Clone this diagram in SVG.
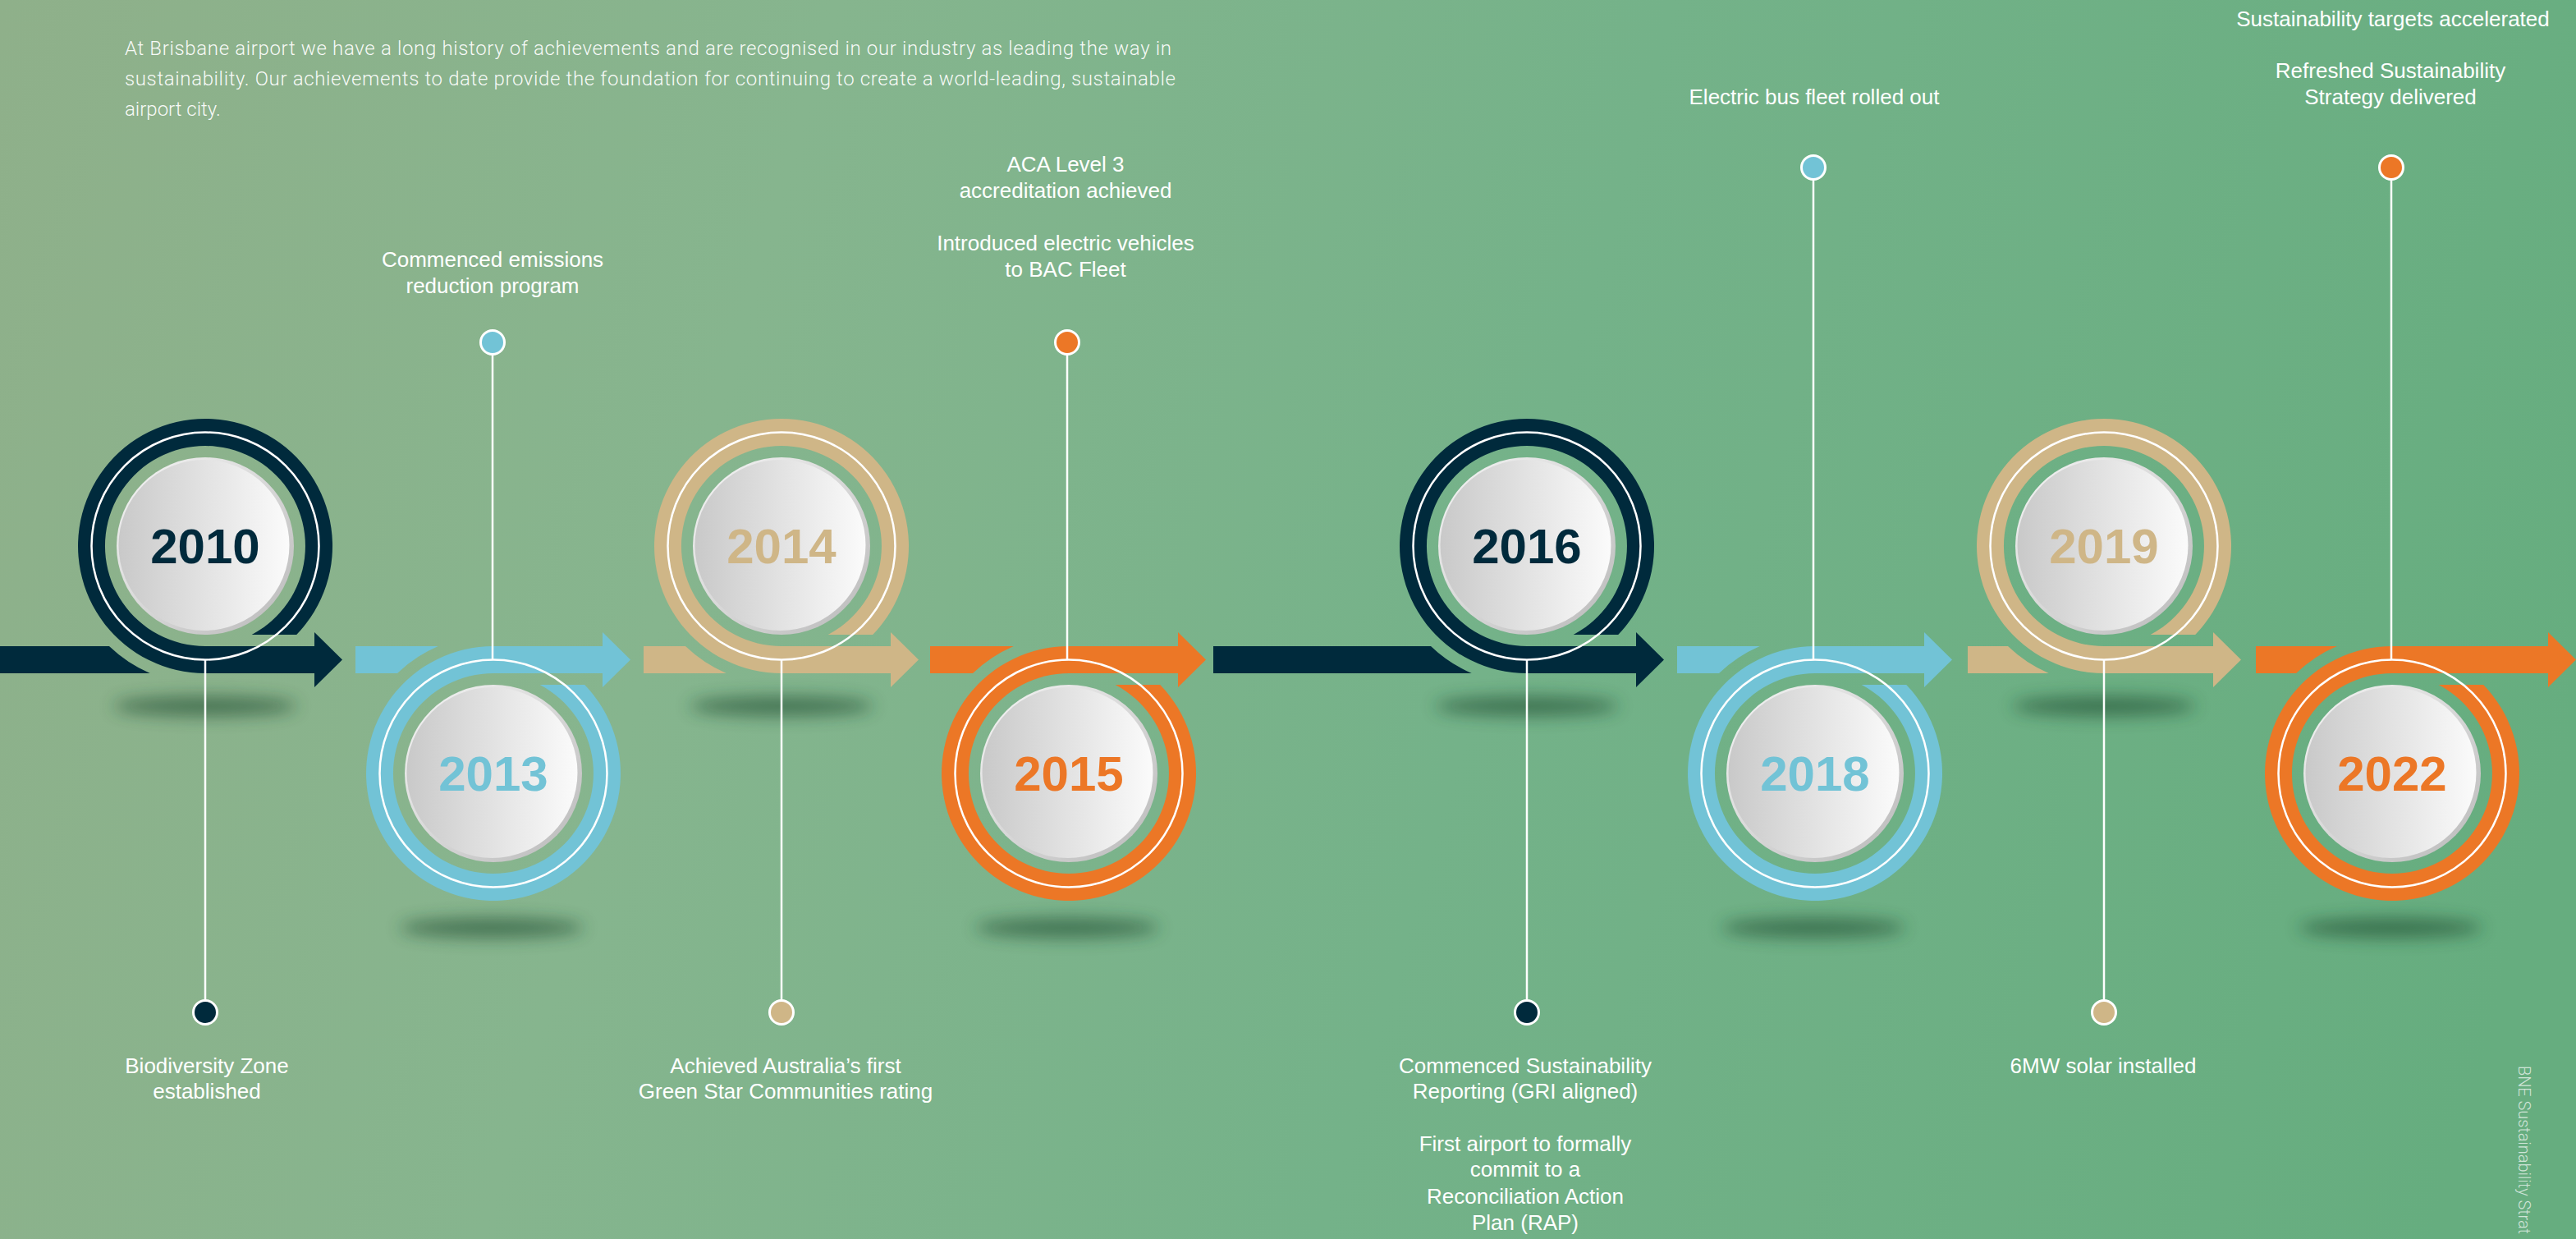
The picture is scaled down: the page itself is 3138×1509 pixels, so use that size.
<svg xmlns="http://www.w3.org/2000/svg" width="3138" height="1509" viewBox="0 0 3138 1509">
<defs>
<linearGradient id="bg" gradientUnits="userSpaceOnUse" x1="0" y1="0" x2="3138" y2="900">
<stop offset="0" stop-color="#8fb08a"/>
<stop offset="0.3" stop-color="#86b58e"/>
<stop offset="0.6" stop-color="#74b289"/>
<stop offset="1" stop-color="#66ad7f"/>
</linearGradient>
<linearGradient id="rim" x1="0" y1="0" x2="1" y2="1">
<stop offset="0" stop-color="#f6f6f6"/>
<stop offset="1" stop-color="#b9b9b9"/>
</linearGradient>
<linearGradient id="face" x1="0" y1="0" x2="1" y2="0">
<stop offset="0" stop-color="#c9c9c9"/>
<stop offset="1" stop-color="#fbfbfb"/>
</linearGradient>
<filter id="blur" x="-50%" y="-200%" width="200%" height="500%">
<feGaussianBlur stdDeviation="10"/>
</filter>
</defs>
<style>
.navy{fill:#002a3c}
.blue{fill:#72c3d6}
.tan{fill:#cfb687}
.orange{fill:#ec7726}
.shadow{fill:#1f4a2f;opacity:0.6;filter:url(#blur)}
.wring{fill:none;stroke:#ffffff;stroke-width:2.5}
.rim{fill:url(#rim)}
.face{fill:url(#face)}
.year{font-family:"Liberation Sans",Arial,sans-serif;font-weight:bold;font-size:60px;text-anchor:middle}
.lbl{font-family:"Liberation Sans",Arial,sans-serif;font-size:26px;fill:#ffffff;text-anchor:middle}
.intro{font-family:Roboto,"Liberation Sans",sans-serif;font-weight:300;font-size:24px;fill:#ffffff;fill-opacity:0.95}
.side{font-family:Roboto,"Liberation Sans",sans-serif;font-weight:300;font-size:20px;fill:#ffffff;fill-opacity:0.7}
.stem{stroke:#ffffff;stroke-width:2.5;fill:none}
.dot{stroke:#ffffff;stroke-width:3}
</style>
<rect x="0" y="0" width="3138" height="1509" fill="url(#bg)"/>

<g id="intro">
<text class="intro" x="152" y="67" textLength="1275" lengthAdjust="spacing">At Brisbane airport we have a long history of achievements and are recognised in our industry as leading the way in</text>
<text class="intro" x="152" y="104" textLength="1280" lengthAdjust="spacing">sustainability. Our achievements to date provide the foundation for continuing to create a world-leading, sustainable</text>
<text class="intro" x="152" y="141">airport city.</text>
</g>

<g id="shadows">
<ellipse class="shadow" cx="250" cy="860" rx="112" ry="12"/>
<ellipse class="shadow" cx="599" cy="1130" rx="112" ry="12"/>
<ellipse class="shadow" cx="952" cy="860" rx="112" ry="12"/>
<ellipse class="shadow" cx="1300" cy="1130" rx="112" ry="12"/>
<ellipse class="shadow" cx="1860" cy="860" rx="112" ry="12"/>
<ellipse class="shadow" cx="2209" cy="1130" rx="112" ry="12"/>
<ellipse class="shadow" cx="2563" cy="860" rx="112" ry="12"/>
<ellipse class="shadow" cx="2912" cy="1130" rx="112" ry="12"/>
</g>

<g id="node-2010">
<path class="navy" d="M0,787 L133,787 A169,169 0 0 0 182.7,820 L0,820 Z"/>
<path class="navy" d="M250,820 A155,155 0 1 1 361.2,773 L306.7,773 A122,122 0 1 0 250,787 L383,787 L383,770 L417,803.5 L383,837 L383,820 Z"/>
<circle class="wring" cx="250" cy="665" r="138.5"/>
<circle class="rim" cx="250" cy="665" r="108"/>
<circle class="face" cx="248.5" cy="664" r="104"/>
<text class="year navy" x="250" y="686">2010</text>
</g>

<g id="node-2013">
<path class="blue" d="M433,787 L533.7,787 A169,169 0 0 0 484,820 L433,820 Z"/>
<path class="blue" d="M601,787 A155,155 0 1 0 712.2,834 L657.7,834 A122,122 0 1 1 601,820 L734,820 L734,837 L768,803.5 L734,770 L734,787 Z"/>
<circle class="wring" cx="601" cy="942" r="138.5"/>
<circle class="rim" cx="601" cy="942" r="108"/>
<circle class="face" cx="599.5" cy="941" r="104"/>
<text class="year blue" x="601" y="963">2013</text>
</g>

<g id="node-2014">
<path class="tan" d="M784,787 L835,787 A169,169 0 0 0 884.7,820 L784,820 Z"/>
<path class="tan" d="M952,820 A155,155 0 1 1 1063.2,773 L1008.7,773 A122,122 0 1 0 952,787 L1085,787 L1085,770 L1119,803.5 L1085,837 L1085,820 Z"/>
<circle class="wring" cx="952" cy="665" r="138.5"/>
<circle class="rim" cx="952" cy="665" r="108"/>
<circle class="face" cx="950.5" cy="664" r="104"/>
<text class="year tan" x="952" y="686">2014</text>
</g>

<g id="node-2015">
<path class="orange" d="M1133,787 L1234.7,787 A169,169 0 0 0 1185,820 L1133,820 Z"/>
<path class="orange" d="M1302,787 A155,155 0 1 0 1413.2,834 L1358.7,834 A122,122 0 1 1 1302,820 L1435,820 L1435,837 L1469,803.5 L1435,770 L1435,787 Z"/>
<circle class="wring" cx="1302" cy="942" r="138.5"/>
<circle class="rim" cx="1302" cy="942" r="108"/>
<circle class="face" cx="1300.5" cy="941" r="104"/>
<text class="year orange" x="1302" y="963">2015</text>
</g>

<g id="node-2016">
<path class="navy" d="M1478,787 L1743,787 A169,169 0 0 0 1792.7,820 L1478,820 Z"/>
<path class="navy" d="M1860,820 A155,155 0 1 1 1971.2,773 L1916.7,773 A122,122 0 1 0 1860,787 L1993,787 L1993,770 L2027,803.5 L1993,837 L1993,820 Z"/>
<circle class="wring" cx="1860" cy="665" r="138.5"/>
<circle class="rim" cx="1860" cy="665" r="108"/>
<circle class="face" cx="1858.5" cy="664" r="104"/>
<text class="year navy" x="1860" y="686">2016</text>
</g>

<g id="node-2018">
<path class="blue" d="M2043,787 L2143.7,787 A169,169 0 0 0 2094,820 L2043,820 Z"/>
<path class="blue" d="M2211,787 A155,155 0 1 0 2322.2,834 L2267.7,834 A122,122 0 1 1 2211,820 L2344,820 L2344,837 L2378,803.5 L2344,770 L2344,787 Z"/>
<circle class="wring" cx="2211" cy="942" r="138.5"/>
<circle class="rim" cx="2211" cy="942" r="108"/>
<circle class="face" cx="2209.5" cy="941" r="104"/>
<text class="year blue" x="2211" y="963">2018</text>
</g>

<g id="node-2019">
<path class="tan" d="M2397,787 L2446,787 A169,169 0 0 0 2495.7,820 L2397,820 Z"/>
<path class="tan" d="M2563,820 A155,155 0 1 1 2674.2,773 L2619.7,773 A122,122 0 1 0 2563,787 L2696,787 L2696,770 L2730,803.5 L2696,837 L2696,820 Z"/>
<circle class="wring" cx="2563" cy="665" r="138.5"/>
<circle class="rim" cx="2563" cy="665" r="108"/>
<circle class="face" cx="2561.5" cy="664" r="104"/>
<text class="year tan" x="2563" y="686">2019</text>
</g>

<g id="node-2022">
<path class="orange" d="M2748,787 L2846.7,787 A169,169 0 0 0 2797,820 L2748,820 Z"/>
<path class="orange" d="M2914,787 A155,155 0 1 0 3025.2,834 L2970.7,834 A122,122 0 1 1 2914,820 L3104,820 L3104,837 L3138,803.5 L3104,770 L3104,787 Z"/>
<circle class="wring" cx="2914" cy="942" r="138.5"/>
<circle class="rim" cx="2914" cy="942" r="108"/>
<circle class="face" cx="2912.5" cy="941" r="104"/>
<text class="year orange" x="2914" y="963">2022</text>
</g>

<g id="connectors">
<line class="stem" x1="250" y1="803.5" x2="250" y2="1233"/>
<line class="stem" x1="600" y1="417" x2="600" y2="803.5"/>
<line class="stem" x1="952" y1="803.5" x2="952" y2="1233"/>
<line class="stem" x1="1300" y1="417" x2="1300" y2="803.5"/>
<line class="stem" x1="1860" y1="803.5" x2="1860" y2="1233"/>
<line class="stem" x1="2209" y1="204" x2="2209" y2="803.5"/>
<line class="stem" x1="2563" y1="803.5" x2="2563" y2="1233"/>
<line class="stem" x1="2913" y1="204" x2="2913" y2="803.5"/>
</g>

<g id="dots">
<circle class="dot navy" cx="250" cy="1233" r="14.5"/>
<circle class="dot blue" cx="600" cy="417" r="14.5"/>
<circle class="dot tan" cx="952" cy="1233" r="14.5"/>
<circle class="dot orange" cx="1300" cy="417" r="14.5"/>
<circle class="dot navy" cx="1860" cy="1233" r="14.5"/>
<circle class="dot blue" cx="2209" cy="204" r="14.5"/>
<circle class="dot tan" cx="2563" cy="1233" r="14.5"/>
<circle class="dot orange" cx="2913" cy="204" r="14.5"/>
</g>

<g id="label-2010">
<text class="lbl" x="252" y="1307">Biodiversity Zone</text>
<text class="lbl" x="252" y="1338">established</text>
</g>
<g id="label-2013">
<text class="lbl" x="600" y="325">Commenced emissions</text>
<text class="lbl" x="600" y="357">reduction program</text>
</g>
<g id="label-2014">
<text class="lbl" x="957" y="1307">Achieved Australia’s first</text>
<text class="lbl" x="957" y="1338">Green Star Communities rating</text>
</g>
<g id="label-2015">
<text class="lbl" x="1298" y="209">ACA Level 3</text>
<text class="lbl" x="1298" y="241">accreditation achieved</text>
<text class="lbl" x="1298" y="305">Introduced electric vehicles</text>
<text class="lbl" x="1298" y="337">to BAC Fleet</text>
</g>
<g id="label-2016">
<text class="lbl" x="1858" y="1307">Commenced Sustainability</text>
<text class="lbl" x="1858" y="1338">Reporting (GRI aligned)</text>
<text class="lbl" x="1858" y="1402">First airport to formally</text>
<text class="lbl" x="1858" y="1433">commit to a</text>
<text class="lbl" x="1858" y="1466">Reconciliation Action</text>
<text class="lbl" x="1858" y="1498">Plan (RAP)</text>
</g>
<g id="label-2018">
<text class="lbl" x="2210" y="127">Electric bus fleet rolled out</text>
</g>
<g id="label-2019">
<text class="lbl" x="2562" y="1307">6MW solar installed</text>
</g>
<g id="label-2022">
<text class="lbl" x="2915" y="32">Sustainability targets accelerated</text>
<text class="lbl" x="2912" y="95">Refreshed Sustainability</text>
<text class="lbl" x="2912" y="127">Strategy delivered</text>
</g>

<g id="side-note">
<text class="side" transform="translate(3068,1298) rotate(90)" x="0" y="0" textLength="205" lengthAdjust="spacing">BNE Sustainability Strat</text>
</g>
</svg>
